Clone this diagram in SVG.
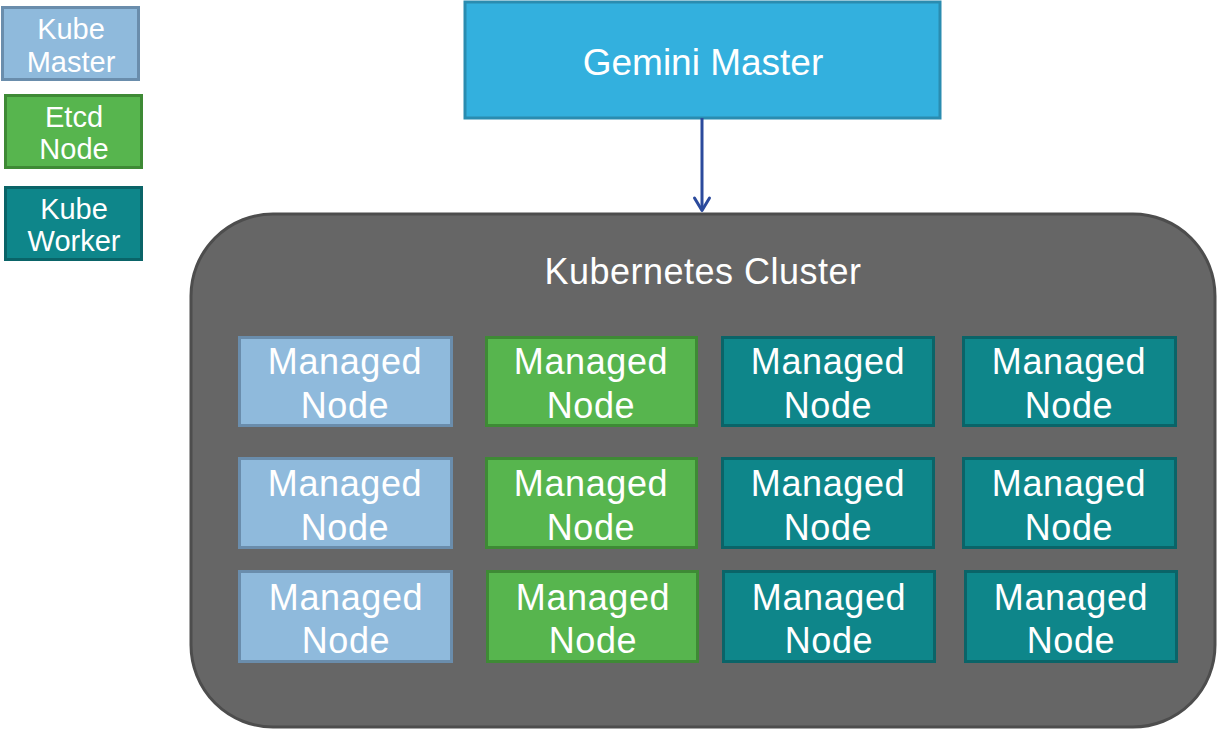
<svg xmlns="http://www.w3.org/2000/svg" width="1217" height="731" viewBox="0 0 1217 731">
<defs>
<style>
text{font-family:"Liberation Sans",Arial,sans-serif;fill:#fff;text-anchor:middle}
.km{fill:#8FBADC;stroke:#6A8DAC;stroke-width:3}
.et{fill:#57B54E;stroke:#3E8A35;stroke-width:3}
.kw{fill:#0E868A;stroke:#0A6468;stroke-width:3}
.mn{font-size:36px;letter-spacing:0.6px}
.lg{font-size:29px}
</style>
</defs>
<rect width="1217" height="731" fill="#fff"/>
<g id="legend-kube-master"><rect class="km" x="2.5" y="7.5" width="136" height="72"/><text class="lg" x="71" y="39">Kube</text><text class="lg" x="71" y="72">Master</text></g>
<g id="legend-etcd"><rect class="et" x="5.5" y="95.5" width="136" height="72"/><text class="lg" x="74" y="127">Etcd</text><text class="lg" x="74" y="159">Node</text></g>
<g id="legend-kube-worker"><rect class="kw" x="5.5" y="187.5" width="136" height="72"/><text class="lg" x="74" y="219">Kube</text><text class="lg" x="74" y="251">Worker</text></g>
<g id="gemini-master"><rect x="465" y="2" width="475" height="116" fill="#33B0DE" stroke="#2A8CB0" stroke-width="3"/><text x="703" y="75" font-size="37">Gemini Master</text></g>
<g id="cluster"><rect x="191" y="214" width="1024" height="513" rx="82" fill="#666" stroke="#4D4D4D" stroke-width="3"/><text x="703" y="284" font-size="36" letter-spacing="0.5">Kubernetes Cluster</text></g>
<g id="connectors"><line x1="702" y1="118" x2="702" y2="210" stroke="#2B4A9C" stroke-width="3"/><path d="M694.5 198 L702 210.5 L709.5 198" fill="none" stroke="#2B4A9C" stroke-width="3" stroke-linecap="round" stroke-linejoin="round"/></g>
<g id="n11"><rect class="km" x="239.5" y="337.5" width="212" height="88"/><text class="mn" x="345" y="374">Managed</text><text class="mn" x="345" y="418">Node</text></g>
<g id="n12"><rect class="et" x="486.5" y="337.5" width="210" height="88"/><text class="mn" x="591" y="374">Managed</text><text class="mn" x="591" y="418">Node</text></g>
<g id="n13"><rect class="kw" x="722.5" y="337.5" width="211" height="88"/><text class="mn" x="828" y="374">Managed</text><text class="mn" x="828" y="418">Node</text></g>
<g id="n14"><rect class="kw" x="963.5" y="337.5" width="212" height="88"/><text class="mn" x="1069" y="374">Managed</text><text class="mn" x="1069" y="418">Node</text></g>
<g id="n21"><rect class="km" x="239.5" y="458.5" width="212" height="89"/><text class="mn" x="345" y="496">Managed</text><text class="mn" x="345" y="540">Node</text></g>
<g id="n22"><rect class="et" x="486.5" y="458.5" width="210" height="89"/><text class="mn" x="591" y="496">Managed</text><text class="mn" x="591" y="540">Node</text></g>
<g id="n23"><rect class="kw" x="722.5" y="458.5" width="211" height="89"/><text class="mn" x="828" y="496">Managed</text><text class="mn" x="828" y="540">Node</text></g>
<g id="n24"><rect class="kw" x="963.5" y="458.5" width="212" height="89"/><text class="mn" x="1069" y="496">Managed</text><text class="mn" x="1069" y="540">Node</text></g>
<g id="n31"><rect class="km" x="239.5" y="571.5" width="212" height="90"/><text class="mn" x="346" y="610">Managed</text><text class="mn" x="346" y="653">Node</text></g>
<g id="n32"><rect class="et" x="487.5" y="571.5" width="210" height="90"/><text class="mn" x="593" y="610">Managed</text><text class="mn" x="593" y="653">Node</text></g>
<g id="n33"><rect class="kw" x="723.5" y="571.5" width="211" height="90"/><text class="mn" x="829" y="610">Managed</text><text class="mn" x="829" y="653">Node</text></g>
<g id="n34"><rect class="kw" x="965.5" y="571.5" width="211" height="90"/><text class="mn" x="1071" y="610">Managed</text><text class="mn" x="1071" y="653">Node</text></g>
</svg>
